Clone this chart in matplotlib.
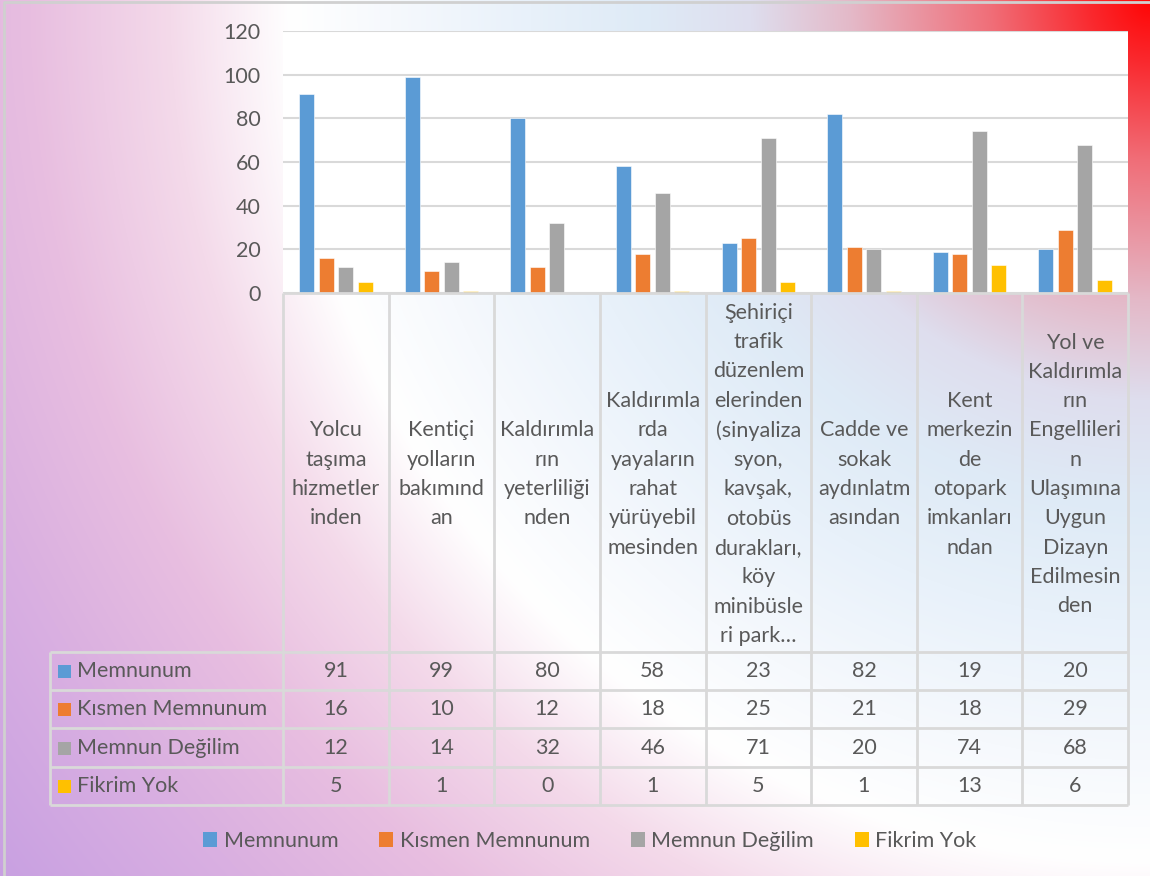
import numpy as np
import matplotlib
matplotlib.use("Agg")
import matplotlib.pyplot as plt
from matplotlib.patches import Patch, Rectangle

# --- veriler ---
categories = [
    "Yolcu\ntaşıma\nhizmetler\ninden",
    "Kentiçi\nyolların\nbakımınd\nan",
    "Kaldırımla\nrın\nyeterliliği\nnden",
    "Kaldırımla\nrda\nyayaların\nrahat\nyürüyebil\nmesinden",
    "Şehiriçi\ntrafik\ndüzenlem\nelerinden\n(sinyaliza\nsyon,\nkavşak,\notobüs\ndurakları,\nköy\nminibüsle\nri park…",
    "Cadde ve\nsokak\naydınlatm\nasından",
    "Kent\nmerkezin\nde\notopark\nimkanları\nndan",
    "Yol ve\nKaldırımla\nrın\nEngellileri\nn\nUlaşımına\nUygun\nDizayn\nEdilmesin\nden",
]
series_names = ["Memnunum", "Kısmen Memnunum", "Memnun Değilim", "Fikrim Yok"]
memnunum = [91, 99, 80, 58, 23, 82, 19, 20]
kismen_memnunum = [16, 10, 12, 18, 25, 21, 18, 29]
memnun_degilim = [12, 14, 32, 46, 71, 20, 74, 68]
fikrim_yok = [5, 1, 0, 1, 5, 1, 13, 6]
y_ticks = [0, 20, 40, 60, 80, 100, 120]

series = [memnunum, kismen_memnunum, memnun_degilim, fikrim_yok]
colors = ["#5B9BD5", "#ED7D31", "#A5A5A5", "#FFC000"]
text_color = "#595959"
grid_color = "#D9D9D9"
FONT = "Lato"
FS = 15.5

plt.rcParams["font.family"] = [FONT, "DejaVu Sans"]

W, H = 1150, 876
fig = plt.figure(figsize=(W / 100, H / 100), dpi=100)

# arka plan: sağ üst köşeden radyal gradyan
yy, xx = np.mgrid[0:H, 0:W]
r = np.hypot(xx - W, yy)
stops = [0, 60, 160, 300, 400, 500, 620, 760, 860, 980, 1120, 1260, 1450]
cols = np.array([
    (255, 5, 5), (250, 40, 45), (240, 110, 120), (228, 185, 200),
    (222, 222, 238), (222, 234, 246), (232, 241, 250), (246, 249, 253),
    (255, 255, 255), (244, 218, 234), (232, 190, 224), (218, 176, 225),
    (200, 160, 226)]) / 255.0
img = np.dstack([np.interp(r, stops, cols[:, k]) for k in range(3)])
bg = fig.add_axes([0, 0, 1, 1], zorder=-10)
bg.imshow(img, extent=[0, W, H, 0], aspect="auto", interpolation="bilinear")
bg.plot([4, 4, W], [H, 1.5, 1.5], color="#D0D0D0", lw=2)
bg.set_xlim(0, W)
bg.set_ylim(H, 0)
bg.axis("off")

# grafik alanı
left, right, top, bottom = 283, 1128, 31, 293
ax = fig.add_axes([left / W, 1 - bottom / H, (right - left) / W, (bottom - top) / H])
ax.set_facecolor("white")
x = np.arange(len(categories))
step, width = 0.185, 0.142
for j, (vals, c) in enumerate(zip(series, colors)):
    ax.bar(x + (j - 1.5) * step, vals, width=width, color=c, edgecolor="white",
           linewidth=0.4, zorder=3)
ax.set_xlim(-0.5, len(categories) - 0.5)
ax.set_ylim(0, 120)
ax.set_yticks(y_ticks)
ax.set_xticks([])
ax.grid(axis="y", color=grid_color, lw=1.5, zorder=0)
ax.tick_params(axis="y", length=0, pad=16, labelsize=FS, labelcolor=text_color)
for s in ax.spines.values():
    s.set_visible(False)

# veri tablosu
tab_left, tab_bottom = 50, 805
cat_w = (right - left) / len(categories)
xmin = -0.5 - (left - tab_left) / cat_w
label_h = (652 - bottom) / 38.3
n_rows = len(series)
tax = fig.add_axes([tab_left / W, 1 - tab_bottom / H, (right - tab_left) / W,
                    (tab_bottom - bottom) / H])
tax.set_xlim(xmin, len(categories) - 0.5)
tax.set_ylim(label_h + n_rows, 0)
tax.axis("off")
tax.patch.set_alpha(0)

lw = 2
tax.hlines(0, -0.5, len(categories) - 0.5, color=grid_color, lw=lw, clip_on=False)
for k in range(n_rows + 1):
    tax.hlines(label_h + k, xmin, len(categories) - 0.5, color=grid_color, lw=lw, clip_on=False)
for k in range(len(categories) + 1):
    tax.vlines(k - 0.5, 0, label_h + n_rows, color=grid_color, lw=lw, clip_on=False)
tax.vlines(xmin, label_h, label_h + n_rows, color=grid_color, lw=lw, clip_on=False)

for i, cat in enumerate(categories):
    tax.text(i, label_h / 2 + 0.05, cat, ha="center", va="center", fontsize=FS,
             color=text_color, linespacing=1.58)

for rI, (name, vals, c) in enumerate(zip(series_names, series, colors)):
    yc = label_h + rI + 0.5
    tax.add_patch(Rectangle((xmin + 8 / cat_w, yc - 6 / 38.3), 13 / cat_w, 13 / 38.3,
                            facecolor=c, edgecolor="none", clip_on=False))
    tax.text(xmin + 27 / cat_w, yc, name, ha="left", va="center", fontsize=FS,
             color=text_color)
    for i, v in enumerate(vals):
        tax.text(i, yc, str(v), ha="center", va="center", fontsize=FS, color=text_color)

# lejant
handles = [Patch(facecolor=c, edgecolor="none") for c in colors]
leg = fig.legend(handles, series_names, loc="center", bbox_to_anchor=(590 / W, 1 - 841 / H),
                 ncol=4, frameon=False, fontsize=FS, handlelength=0.65, handleheight=0.75,
                 handletextpad=0.3, columnspacing=1.9)
for t in leg.get_texts():
    t.set_color(text_color)

fig.savefig("out.png", dpi=100)
